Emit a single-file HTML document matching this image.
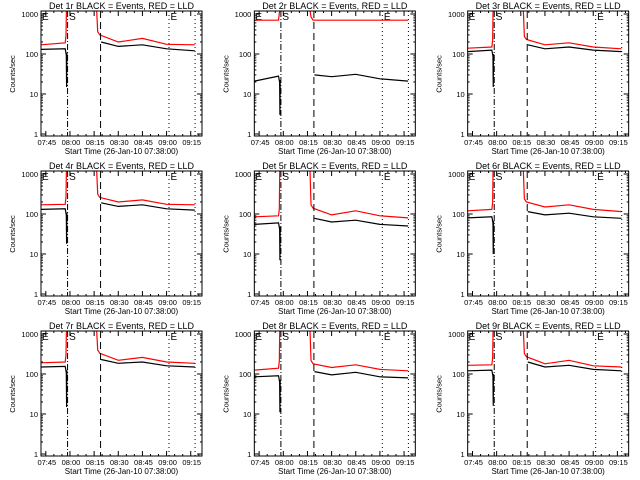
<!DOCTYPE html>
<html><head><meta charset="utf-8"><style>
html,body{margin:0;padding:0;background:#fff;}
svg{display:block;font-family:"Liberation Sans",sans-serif;}
</style></head><body>
<svg id="fig" width="640" height="480" viewBox="0 0 640 480" xmlns="http://www.w3.org/2000/svg"></svg>
<script>
// Data (knot times in minutes since 07:42)
const dets = ["1r","2r","3r","4r","5r","6r","7r","8r","9r"];
const xTickLabels = ["07:45","08:00","08:15","08:30","08:45","09:00","09:15"];
const yTickLabels = ["1","10","100","1000"];
const preTimes = [0, 15];
const postTimes = [36.5, 48, 63, 78, 95.5];
const preBlack = [[130,135],[21,28],[115,125],[130,135],[55,60],[80,85],[150,155],[85,90],[120,125]];
const dipBlack = [15,3,15,18,7,10,15,11,16];
const preRed = [[170,190],[700,700],[140,150],[170,175],[85,90],[120,130],[190,200],[125,140],[165,170]];
const postBlack = [[200,155,170,135,120],[30,27,31,24,21],[170,135,150,125,115],[190,155,170,135,125],[78,63,70,55,50],[115,95,105,85,78],[230,185,200,160,150],[115,95,110,85,80],[200,150,165,130,120]];
const postRed = [[300,200,245,175,170],[700,700,700,700,700],[230,170,190,150,135],[260,200,225,175,170],[140,95,120,90,80],[200,150,170,130,115],[330,220,260,200,185],[180,145,170,130,120],[270,180,220,160,150]];
const markerTimes = [16.5, 37, 79.5, 95.7];

const NS = "http://www.w3.org/2000/svg";
const svg = document.getElementById('fig');
function el(tag, attrs, parent){ const e=document.createElementNS(NS,tag); for(const k in attrs) e.setAttribute(k,attrs[k]); parent.appendChild(e); return e; }

dets.forEach((d,i)=>{
  const ox = (i%3)*213.33, oy = Math.floor(i/3)*160;
  const g = el('g',{transform:`translate(${ox.toFixed(2)},${oy})`},svg);
  
  
  const L=41,R=202,T=11,B=136;
  const X = m => L + m*1.61;
  const Y = v => 134 - 40*Math.log10(v);
  const cy = y => Math.max(T, Math.min(B, y));
  const cid='c'+i;
  const cp=el('clipPath',{id:cid},g); el('rect',{x:L,y:T,width:R-L,height:B-T},cp);
  const pts = arr => arr.map(p=>X(p[0]).toFixed(1)+','+cy(Y(p[1])).toFixed(1)).join(' ');
  const red1 = [[preTimes[0],preRed[i][0]],[preTimes[1],preRed[i][1]],[15.5,preRed[i][1]*1.5],[15.8,5000]];
  const red2 = [[34.6,5000],[35.2,postRed[i][0]*1.2],[postTimes[0],postRed[i][0]]].concat(postTimes.slice(1).map((t,k)=>[t,postRed[i][k+1]]));
  const blk1 = [[preTimes[0],preBlack[i][0]],[preTimes[1],preBlack[i][1]],[15.7,preBlack[i][1]*0.7],[15.9,dipBlack[i]],[16.1,preBlack[i][1]*0.8]];
  const blk2 = [[37.3,postBlack[i][0]]].concat(postTimes.slice(1).map((t,k)=>[t,postBlack[i][k+1]]));
  [[blk1,'#000','black-events-pre'],[blk2,'#000','black-events-post'],[red1,'#ff0000','red-lld-pre'],[red2,'#ff0000','red-lld-post']].forEach(s=>{
    const pl=el('polyline',{points:pts(s[0]),fill:'none',stroke:s[1],'stroke-width':1.2,'clip-path':`url(#${cid})`},g);
    
    
  });
  const dashes=['6,2,1,2','7,4','1,3','1,3'];
  markerTimes.forEach((t,k)=>{
    const ln=el('line',{x1:X(t),x2:X(t),y1:T,y2:B,stroke:'#000','stroke-width':1,'stroke-dasharray':dashes[k]},g);
    
    
  });
  [['E',L+1],['S',X(markerTimes[0])+1.5],['E',X(markerTimes[2])+1.5]].forEach((p,k)=>{
    const tx=el('text',{x:p[1],y:T+9,'font-size':10},g); tx.textContent=p[0];
    
    
  });
  const bx=el('rect',{x:L,y:T,width:R-L,height:B-T,fill:'none',stroke:'#000','stroke-width':1},g);
  
  
  for(let m=3;m<=100;m+=5){
    const major=((m-3)%15===0), len=major?5:2;
    el('line',{x1:X(m),x2:X(m),y1:B,y2:B-len,stroke:'#000'},g);
    el('line',{x1:X(m),x2:X(m),y1:T,y2:T+len,stroke:'#000'},g);
  }
  xTickLabels.forEach((lab,k)=>{
    const tx=el('text',{x:X(3+15*k)+1,y:B+9,'font-size':7.5,'text-anchor':'middle'},g); tx.textContent=lab;
    
    
  });
  for(let dcd=0;dcd<4;dcd++){
    for(let m=1;m<=9;m++){
      const v=m*Math.pow(10,dcd); if(v>1000) break;
      const len=m===1?5:2, y=Y(v);
      el('line',{x1:L,x2:L+len,y1:y,y2:y,stroke:'#000'},g);
      el('line',{x1:R,x2:R-len,y1:y,y2:y,stroke:'#000'},g);
    }
  }
  yTickLabels.forEach((lab,k)=>{
    const tx=el('text',{x:L-3,y:Y(Math.pow(10,k))+3,'font-size':7.5,'text-anchor':'end'},g); tx.textContent=lab;
    
    
  });
  const yt=el('text',{x:0,y:0,'font-size':7.5,'text-anchor':'middle',transform:`translate(15,74) rotate(-90)`},g); yt.textContent='Counts/sec';
  
  
  const xt=el('text',{x:(L+R)/2,y:B+18,'font-size':8,'text-anchor':'middle'},g); xt.textContent='Start Time (26-Jan-10 07:38:00)';
  
  
  const tt=el('text',{x:(L+R)/2,y:9,'font-size':9,'text-anchor':'middle'},g); tt.textContent='Det '+d+' BLACK = Events, RED = LLD';
  
  
});
</script>
</body></html>
